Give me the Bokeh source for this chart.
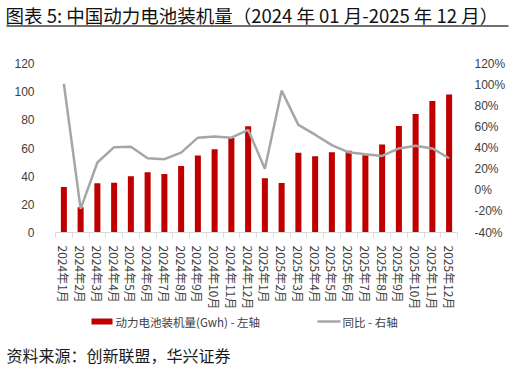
import math
from bokeh.plotting import figure
from bokeh.models import (Range1d, LinearAxis, PrintfTickFormatter, FixedTicker,
                          ColumnDataSource, CustomJSTickFormatter)
from bokeh.core.properties import value
from bokeh.embed import file_html
from bokeh.resources import INLINE

months = ["2024年1月", "2024年2月", "2024年3月", "2024年4月", "2024年5月", "2024年6月",
          "2024年7月", "2024年8月", "2024年9月", "2024年10月", "2024年11月", "2024年12月",
          "2025年1月", "2025年2月", "2025年3月", "2025年4月", "2025年5月", "2025年6月",
          "2025年7月", "2025年8月", "2025年9月", "2025年10月", "2025年11月", "2025年12月"]
installed_gwh = [32.3, 18.0, 35.0, 35.4, 40.0, 42.8, 41.6, 47.2, 54.6, 59.2, 67.3, 75.4,
                 38.6, 35.1, 56.7, 54.1, 56.9, 58.0, 54.8, 62.4, 75.6, 84.2, 93.4, 98.0]
yoy_pct = [100.8, -17.6, 26.3, 40.8, 41.2, 30.3, 29.4, 35.6, 49.8, 51.0, 49.8, 57.2,
           20.4, 94.3, 61.9, 52.6, 42.7, 35.9, 34.0, 32.5, 39.6, 42.1, 39.6, 30.3]
left_ticks = [0, 20, 40, 60, 80, 100, 120]
right_ticks = [-40, -20, 0, 20, 40, 60, 80, 100, 120]

title_text = "图表 5: 中国动力电池装机量（2024 年 01 月-2025 年 12 月）"
source_text = "资料来源：创新联盟，华兴证券"
bar_name = "动力电池装机量(Gwh) - 左轴"
line_name = "同比 - 右轴"

FONT = "Liberation Sans"
CJK = "Noto Sans CJK SC"
W = 514
TOP_H, MAIN_H, BOT_H = 40, 272, 55
BAR = "#C00000"
LINE = "#A6A6A6"
TXT = "#404040"
AXIS = "#D9D9D9"

n = len(months)
centers = [i + 0.5 for i in range(n)]   # slot centres on a 0..n axis


def blank(h, y0):
    f = figure(width=W, height=h, output_backend="svg", toolbar_location=None,
               x_range=Range1d(0, W), y_range=Range1d(y0 + h, y0),
               x_axis_type=None, y_axis_type=None,
               min_border=0, min_border_left=0, min_border_right=0,
               min_border_top=0, min_border_bottom=0)
    f.outline_line_color = None
    f.grid.grid_line_color = None
    f.border_fill_color = "white"
    f.background_fill_color = "white"
    return f


# ---- title strip ----
top = blank(TOP_H, 0)
top.text(x=[5], y=[14.5], text=[title_text], text_font=value(CJK), text_font_size="18.5px",
         text_color="#111111", text_baseline="middle", text_align="left")
top.segment(x0=[6], y0=[25.5], x1=[508], y1=[25.5], line_color="#707070", line_width=1.8)

# ---- main chart ----
src = ColumnDataSource(dict(x=centers, m=months, v=installed_gwh, y=yoy_pct))

p = figure(width=W, height=MAIN_H, output_backend="svg", toolbar_location=None,
           x_range=Range1d(0, n), y_range=Range1d(0, 120),
           min_border_left=55, min_border_right=57, min_border_top=23,
           min_border_bottom=MAIN_H - 23 - 173)
p.outline_line_color = None
p.grid.grid_line_color = None
p.background_fill_color = "white"
p.border_fill_color = "white"

p.extra_y_ranges = {"pct": Range1d(-40, 120)}

p.vbar(x="x", top="v", width=0.36, source=src, fill_color=BAR, line_color=None)
p.line(x="x", y="y", source=src, y_range_name="pct", line_color=LINE, line_width=2.5)

ya = p.yaxis[0]
ya.ticker = FixedTicker(ticks=left_ticks)
ya.axis_line_color = None
ya.major_tick_line_color = None
ya.minor_tick_line_color = None
ya.major_label_standoff = 15
ya.major_label_text_font = FONT
ya.major_label_text_font_size = "12px"
ya.major_label_text_color = TXT

ra = LinearAxis(y_range_name="pct", ticker=FixedTicker(ticks=right_ticks),
                formatter=PrintfTickFormatter(format="%d%%"))
ra.axis_line_color = None
ra.major_tick_line_color = None
ra.minor_tick_line_color = None
ra.major_label_standoff = 11
ra.major_label_text_font = FONT
ra.major_label_text_font_size = "12px"
ra.major_label_text_color = TXT
p.add_layout(ra, "right")

# month labels at slot centres, short ticks on the month boundaries (minor ticks)
xa = p.xaxis[0]
xa.ticker = FixedTicker(ticks=centers, minor_ticks=list(range(n + 1)))
xa.formatter = CustomJSTickFormatter(args=dict(labels=months),
                                     code="return labels[Math.floor(tick)];")
xa.axis_line_color = AXIS
xa.major_tick_line_color = None
xa.major_tick_in = 0
xa.major_tick_out = 0
xa.minor_tick_line_color = AXIS
xa.minor_tick_in = 0
xa.minor_tick_out = 5
xa.major_label_orientation = -math.pi / 2
xa.major_label_standoff = 8
xa.major_label_text_font = CJK
xa.major_label_text_font_size = "12px"
xa.major_label_text_color = TXT

# ---- legend + source strip ----
y0 = TOP_H + MAIN_H
bot = blank(BOT_H, y0)
bot.quad(left=[91], right=[112], top=[318], bottom=[324], fill_color=BAR, line_color=None)
bot.segment(x0=[317], y0=[321], x1=[340], y1=[321], line_color=LINE, line_width=2.5)
bot.text(x=[115, 342], y=[321, 321], text=[bar_name, line_name], text_font=value(CJK),
         text_font_size="11.5px", text_color=TXT, text_baseline="middle", text_align="left")
bot.text(x=[6], y=[354], text=[source_text], text_font=value(CJK), text_font_size="16px",
         text_color="#1A1A1A", text_baseline="middle", text_align="left")

# three separate roots stacked on the page (no frame alignment between them)
open("out.html", "w").write(file_html([top, p, bot], INLINE))
